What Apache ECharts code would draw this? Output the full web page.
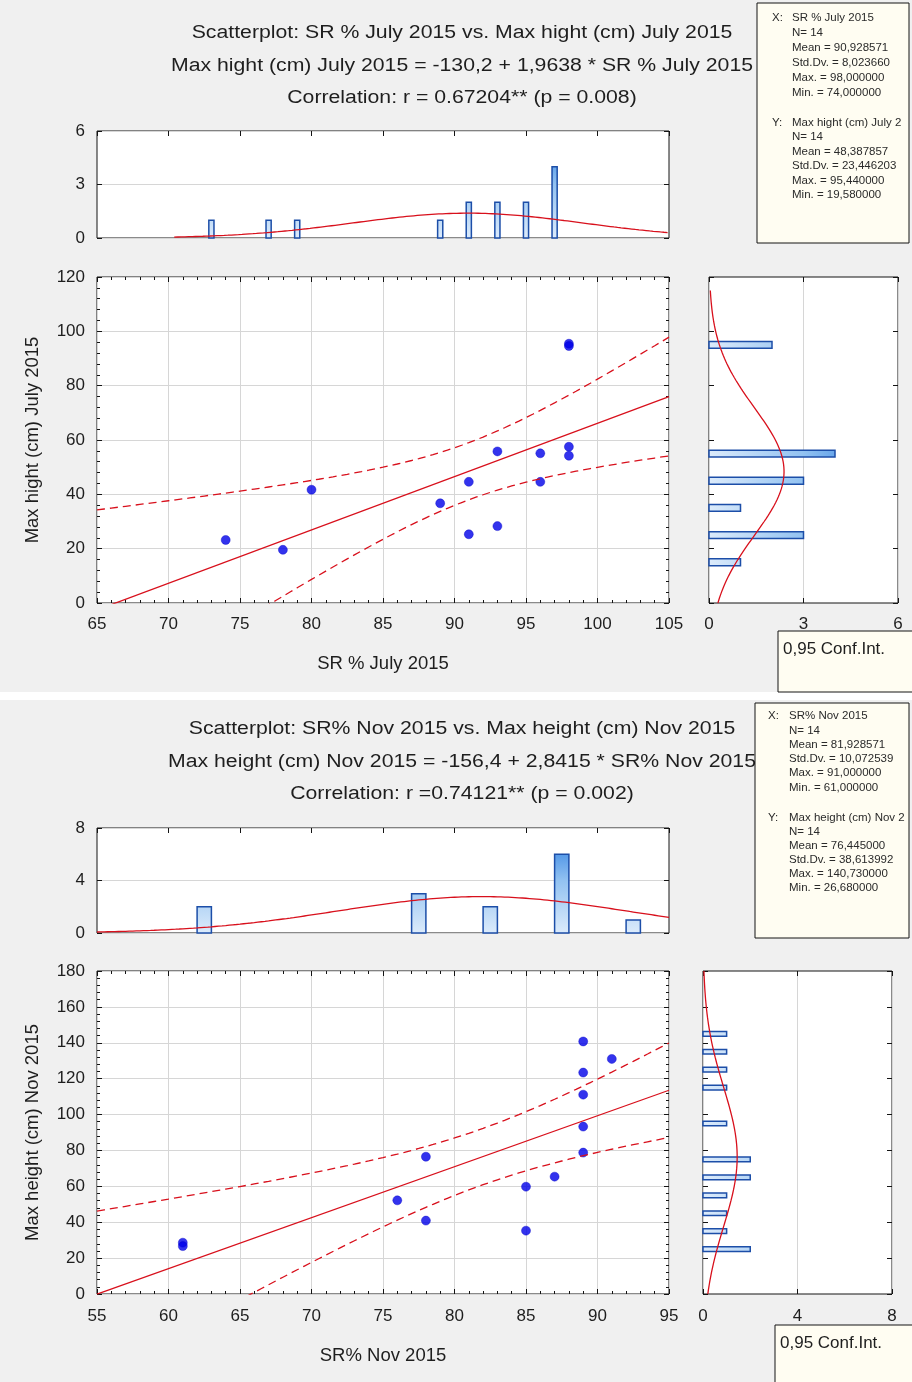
<!DOCTYPE html>
<html>
<head>
<meta charset="utf-8">
<script src="https://cdn.jsdelivr.net/npm/echarts@6/dist/echarts.min.js"></script>
<style>
  html, body { margin: 0; padding: 0; background: #f0f0f0; }
  #chart { width: 912px; height: 1382px; }
</style>
</head>
<body>
<div id="chart"></div>
<script>
// ---- July 2015 ----
const julSR = [74, 78, 80, 89, 91, 91, 93, 93, 96, 96, 98, 98, 98, 98];
const julHeight = [23.2, 19.58, 41.7, 36.7, 44.6, 25.3, 55.8, 28.3, 55.1, 44.6, 95.44, 94.6, 57.5, 54.2];
const julSRBins = [73, 77, 79, 89, 91, 93, 95, 97];
const julSRCounts = [1, 1, 1, 1, 2, 2, 2, 4];
const julHBins = [15, 25, 35, 45, 55, 95];
const julHCounts = [1, 3, 1, 3, 4, 2];
// N, mean, std.dv, max, min
const julXStats = [14, 90.928571, 8.023660, 98, 74];
const julYStats = [14, 48.387857, 23.446203, 95.44, 19.58];
const julFit = [-130.2, 1.9638];
const julR = 0.67204;
const julTitles = [
  'Scatterplot: SR % July 2015 vs. Max hight (cm) July 2015',
  'Max hight (cm) July 2015 = -130,2 + 1,9638 * SR % July 2015',
  'Correlation: r = 0.67204** (p = 0.008)'
];

// ---- Nov 2015 ----
const novSR = [89, 91, 89, 89, 89, 89, 78, 87, 85, 76, 78, 85, 61, 61];
const novHeight = [140.73, 131, 123.4, 111.1, 93.3, 78.8, 76.5, 65.4, 59.8, 52.2, 40.9, 35.3, 28.6, 26.68];
const novSRBins = [62.5, 77.5, 82.5, 87.5, 92.5];
const novSRCounts = [2, 3, 2, 6, 1];
const novHBins = [25, 35, 45, 55, 65, 75, 95, 115, 125, 135, 145];
const novHCounts = [2, 1, 1, 1, 2, 2, 1, 1, 1, 1, 1];
const novXStats = [14, 81.928571, 10.072539, 91, 61];
const novYStats = [14, 76.445, 38.613992, 140.73, 26.68];
const novFit = [-156.4, 2.8415];
const novR = 0.74121;
const novTitles = [
  'Scatterplot: SR% Nov 2015 vs. Max height (cm) Nov 2015',
  'Max height (cm) Nov 2015 = -156,4 + 2,8415 * SR% Nov 2015',
  'Correlation: r =0.74121** (p = 0.002)'
];

const FONT = '"Liberation Sans", Arial, sans-serif';
const TXT = '#1e1e1e';
const RED = '#d8101c';
const INK = '#141414';

const fmt = v => v.toFixed(6).replace('.', ',');

// expected counts of a normal fit, for drawing over a histogram
function normalCurve(stats, binW, from, to, step) {
  const [n, mean, sd] = stats;
  const pts = [];
  for (let v = from; v <= to + 1e-9; v += step) {
    const z = (v - mean) / sd;
    pts.push([v, n * binW * Math.exp(-0.5 * z * z) / (sd * Math.sqrt(2 * Math.PI))]);
  }
  return pts;
}

// regression line + 0.95 conf. band, from the printed summary stats
function regression(fit, r, xs, ys, from, to) {
  const [a, b] = fit;
  const [n, mx, sx] = xs;
  const sy = ys[2];
  const sres = sy * Math.sqrt((1 - r * r) * (n - 1) / (n - 2));
  const sxx = (n - 1) * sx * sx;
  const t = 2.179; // t(0.975, df = 12)
  const up = [], lo = [];
  for (let x = from; x <= to + 1e-9; x += 0.5) {
    const y = a + b * x;
    const h = t * sres * Math.sqrt(1 / n + (x - mx) * (x - mx) / sxx);
    up.push([x, y + h]);
    lo.push([x, y - h]);
  }
  return { line: [[from, a + b * from], [to, a + b * to]], up, lo };
}

const grids = [], xAxes = [], yAxes = [], series = [], graphics = [];

const frame = { show: true, backgroundColor: '#fff', borderColor: INK, borderWidth: 1 };
const gridLine = { show: true, lineStyle: { color: '#d6d6d6', width: 1 } };

function tickAxis(o, minor) {
  return Object.assign({
    type: 'value',
    axisLine: { show: false, onZero: false },
    axisLabel: { show: false },
    axisTick: { show: true, inside: true, length: 5, lineStyle: { color: INK } },
    minorTick: { show: !!minor, splitNumber: 5, length: 3, lineStyle: { color: INK } },
    splitLine: { show: false }
  }, o);
}
function labelAxis(o, minor, split, margin) {
  return tickAxis(Object.assign({
    axisLabel: { show: true, fontSize: 17, color: TXT, margin: margin || 12, fontFamily: FONT },
    splitLine: split ? gridLine : { show: false }
  }, o), minor);
}

const barStops = [
  { offset: 0, color: '#1a72de' },
  { offset: 0.5, color: '#92c2f1' },
  { offset: 1, color: '#dcebfb' }
];

function histSeries(xi, yi, bins, counts, half, horizontal) {
  return {
    type: 'custom', xAxisIndex: xi, yAxisIndex: yi, silent: true,
    data: bins.map((b, i) => horizontal ? [counts[i], b] : [b, counts[i]]),
    renderItem(params, api) {
      const cs = params.coordSys;
      let p0, p1, fill;
      if (horizontal) {
        const c = api.value(0), b = api.value(1);
        p0 = api.coord([0, b + half]);
        p1 = api.coord([c, b - half]);
        fill = new echarts.graphic.LinearGradient(cs.x + cs.width, 0, cs.x, 0, barStops, true);
      } else {
        const b = api.value(0), c = api.value(1);
        p0 = api.coord([b - half, c]);
        p1 = api.coord([b + half, 0]);
        fill = new echarts.graphic.LinearGradient(0, cs.y, 0, cs.y + cs.height, barStops, true);
      }
      return {
        type: 'rect',
        shape: { x: p0[0], y: p0[1], width: p1[0] - p0[0], height: p1[1] - p0[1] },
        style: { fill, stroke: '#1c4ea8', lineWidth: 1.5 }
      };
    }
  };
}

function curve(xi, yi, data, dashed) {
  return {
    type: 'line', xAxisIndex: xi, yAxisIndex: yi, data, silent: true,
    symbol: 'none', clip: true,
    lineStyle: { color: RED, width: 1.3, type: dashed ? [8, 5] : 'solid' }
  };
}

function addPanel(p) {
  const g = grids.length;
  grids.push(
    Object.assign({ left: 97, top: p.histTop, width: 572, height: p.histH }, frame),
    Object.assign({ left: 97, top: p.scTop, width: 572, height: p.scH }, frame),
    Object.assign({ left: p.sideLeft, top: p.scTop, width: 189, height: p.scH }, frame)
  );
  const [xMin, xMax] = p.xRange;
  const nameStyle = { fontSize: 18.5, color: TXT, fontFamily: FONT };

  // histogram of X, above the scatter
  const hx = xAxes.length, hy = yAxes.length;
  xAxes.push(tickAxis({ gridIndex: g, min: xMin, max: xMax, interval: 5, position: 'top' }));
  yAxes.push(
    labelAxis({ gridIndex: g, min: 0, max: p.histMax, interval: p.histMax / 2 }, false, true),
    tickAxis({ gridIndex: g, min: 0, max: p.histMax, interval: p.histMax / 2, position: 'right' })
  );
  series.push(histSeries(hx, hy, p.xBins, p.xCounts, p.xHalf, false));
  series.push(curve(hx, hy, normalCurve(p.xStats, p.xBinW, p.xCurve[0], p.xCurve[1], 0.25)));

  // scatter
  const sx = xAxes.length, sy = yAxes.length;
  xAxes.push(
    labelAxis({
      gridIndex: g + 1, min: xMin, max: xMax, interval: 5, position: 'bottom',
      name: p.xName, nameLocation: 'middle', nameGap: p.xNameGap, nameTextStyle: nameStyle
    }, true, true, p.labelMargin),
    tickAxis({ gridIndex: g + 1, min: xMin, max: xMax, interval: 5, position: 'top' }, true)
  );
  yAxes.push(
    labelAxis({
      gridIndex: g + 1, min: 0, max: p.yMax, interval: 20,
      name: p.yName, nameLocation: 'middle', nameGap: p.yNameGap, nameTextStyle: nameStyle
    }, true, true),
    tickAxis({ gridIndex: g + 1, min: 0, max: p.yMax, interval: 20, position: 'right' }, true)
  );
  const reg = regression(p.fit, p.r, p.xStats, p.yStats, xMin, xMax);
  series.push(curve(sx, sy, reg.up, true), curve(sx, sy, reg.lo, true), curve(sx, sy, reg.line));
  series.push({
    type: 'scatter', xAxisIndex: sx, yAxisIndex: sy, silent: true,
    symbol: 'circle', symbolSize: 9,
    itemStyle: { color: '#0000e8', borderColor: '#0000c8', borderWidth: 0.5 },
    data: p.xs.map((x, i) => [x, p.ys[i]])
  });

  // histogram of Y, to the right
  const rx = xAxes.length, ry = yAxes.length;
  xAxes.push(
    labelAxis({ gridIndex: g + 2, min: 0, max: p.sideMax, interval: p.sideMax / 2, position: 'bottom' }, false, true, p.labelMargin),
    tickAxis({ gridIndex: g + 2, min: 0, max: p.sideMax, interval: p.sideMax / 2, position: 'top' })
  );
  yAxes.push(
    tickAxis({ gridIndex: g + 2, min: 0, max: p.yMax, interval: 20, position: 'left' }),
    tickAxis({ gridIndex: g + 2, min: 0, max: p.yMax, interval: 20, position: 'right' })
  );
  series.push(histSeries(rx, ry, p.yBins, p.yCounts, p.yHalf, true));
  series.push(curve(rx, ry, normalCurve(p.yStats, p.yBinW, p.yCurve[0], p.yCurve[1], 1).map(d => [d[1], d[0]])));

  // titles (Statistica stretches them sideways)
  p.titles.forEach((t, i) => graphics.push({
    type: 'text', z: 10, x: 462, y: p.titleY[i], scaleX: 1.18,
    style: { text: t, x: 0, y: 0, align: 'center', verticalAlign: 'middle',
      font: '18px "Liberation Sans", Arial', fill: TXT }
  }));

  // descriptive stats box
  const b = p.statBox;
  graphics.push({
    type: 'rect', z: 20,
    shape: { x: b[0], y: b[1], width: b[2], height: b[3] },
    style: { fill: '#fffdf2', stroke: INK, lineWidth: 1 }
  });
  const rows = (head, s) => [
    head, 'N= ' + s[0], 'Mean = ' + fmt(s[1]), 'Std.Dv. = ' + fmt(s[2]),
    'Max. = ' + fmt(s[3]), 'Min. = ' + fmt(s[4])
  ];
  const lines = rows(p.xName, p.xStats).concat(rows(p.yName, p.yStats));
  lines.forEach((t, i) => {
    if (i % 6 === 0) {
      graphics.push({
        type: 'text', z: 21,
        style: { text: i === 0 ? 'X:' : 'Y:', x: p.statX[0], y: p.statY[i], verticalAlign: 'middle',
          font: '11.5px "Liberation Sans", Arial', fill: '#2a2a2a' }
      });
    }
    graphics.push({
      type: 'text', z: 21,
      style: { text: t, x: p.statX[1], y: p.statY[i], verticalAlign: 'middle',
        width: b[0] + b[2] - p.statX[1] - 1, overflow: 'truncate', ellipsis: '',
        font: '11.5px "Liberation Sans", Arial', fill: '#2a2a2a' }
    });
  });

  // 0,95 Conf.Int. legend box
  const c = p.confBox;
  graphics.push({
    type: 'rect', z: 20,
    shape: { x: c[0], y: c[1], width: c[2], height: c[3] },
    style: { fill: '#fffdf2', stroke: INK, lineWidth: 1 }
  }, {
    type: 'text', z: 21,
    style: { text: '0,95 Conf.Int.', x: c[0] + 5, y: c[1] + 18, verticalAlign: 'middle',
      font: '17px "Liberation Sans", Arial', fill: TXT }
  });
}

addPanel({
  histTop: 131, histH: 107, histMax: 6,
  scTop: 277, scH: 326, sideLeft: 709, sideMax: 6,
  xRange: [65, 105], yMax: 120,
  xs: julSR, ys: julHeight,
  xBins: julSRBins, xCounts: julSRCounts, yBins: julHBins, yCounts: julHCounts,
  xStats: julXStats, yStats: julYStats, fit: julFit, r: julR,
  xBinW: 2, yBinW: 10, xHalf: 0.18, yHalf: 1.25,
  xCurve: [70.4, 105], yCurve: [0, 115],
  xName: 'SR % July 2015', yName: 'Max hight (cm) July 2015',
  xNameGap: 51, yNameGap: 55, labelMargin: 13,
  titles: julTitles, titleY: [33, 66, 98],
  statBox: [757, 3, 152, 240], statX: [772, 792],
  statY: [18, 33, 48, 63, 78, 93, 123, 137, 152, 166, 181, 195],
  confBox: [778, 631, 140, 61]
});

addPanel({
  histTop: 828, histH: 105, histMax: 8,
  scTop: 971, scH: 323, sideLeft: 703, sideMax: 8,
  xRange: [55, 95], yMax: 180,
  xs: novSR, ys: novHeight,
  xBins: novSRBins, xCounts: novSRCounts, yBins: novHBins, yCounts: novHCounts,
  xStats: novXStats, yStats: novYStats, fit: novFit, r: novR,
  xBinW: 5, yBinW: 10, xHalf: 0.5, yHalf: 1.3,
  xCurve: [55, 95], yCurve: [0, 180],
  xName: 'SR% Nov 2015', yName: 'Max height (cm) Nov 2015',
  xNameGap: 52, yNameGap: 55, labelMargin: 14,
  titles: novTitles, titleY: [729, 762, 794],
  statBox: [755, 703, 154, 235], statX: [768, 789],
  statY: [716, 731, 745, 759, 773, 788, 818, 832, 846, 860, 874, 888],
  confBox: [775, 1325, 140, 60]
});

// white gap between the two plots
graphics.push({ type: 'rect', z: 0, shape: { x: 0, y: 692, width: 912, height: 8 }, style: { fill: '#fff' } });

const chart = echarts.init(document.getElementById('chart'));
chart.setOption({
  backgroundColor: '#f0f0f0',
  animation: false,
  textStyle: { fontFamily: FONT },
  grid: grids,
  xAxis: xAxes,
  yAxis: yAxes,
  series,
  graphic: graphics
});
</script>
</body>
</html>
